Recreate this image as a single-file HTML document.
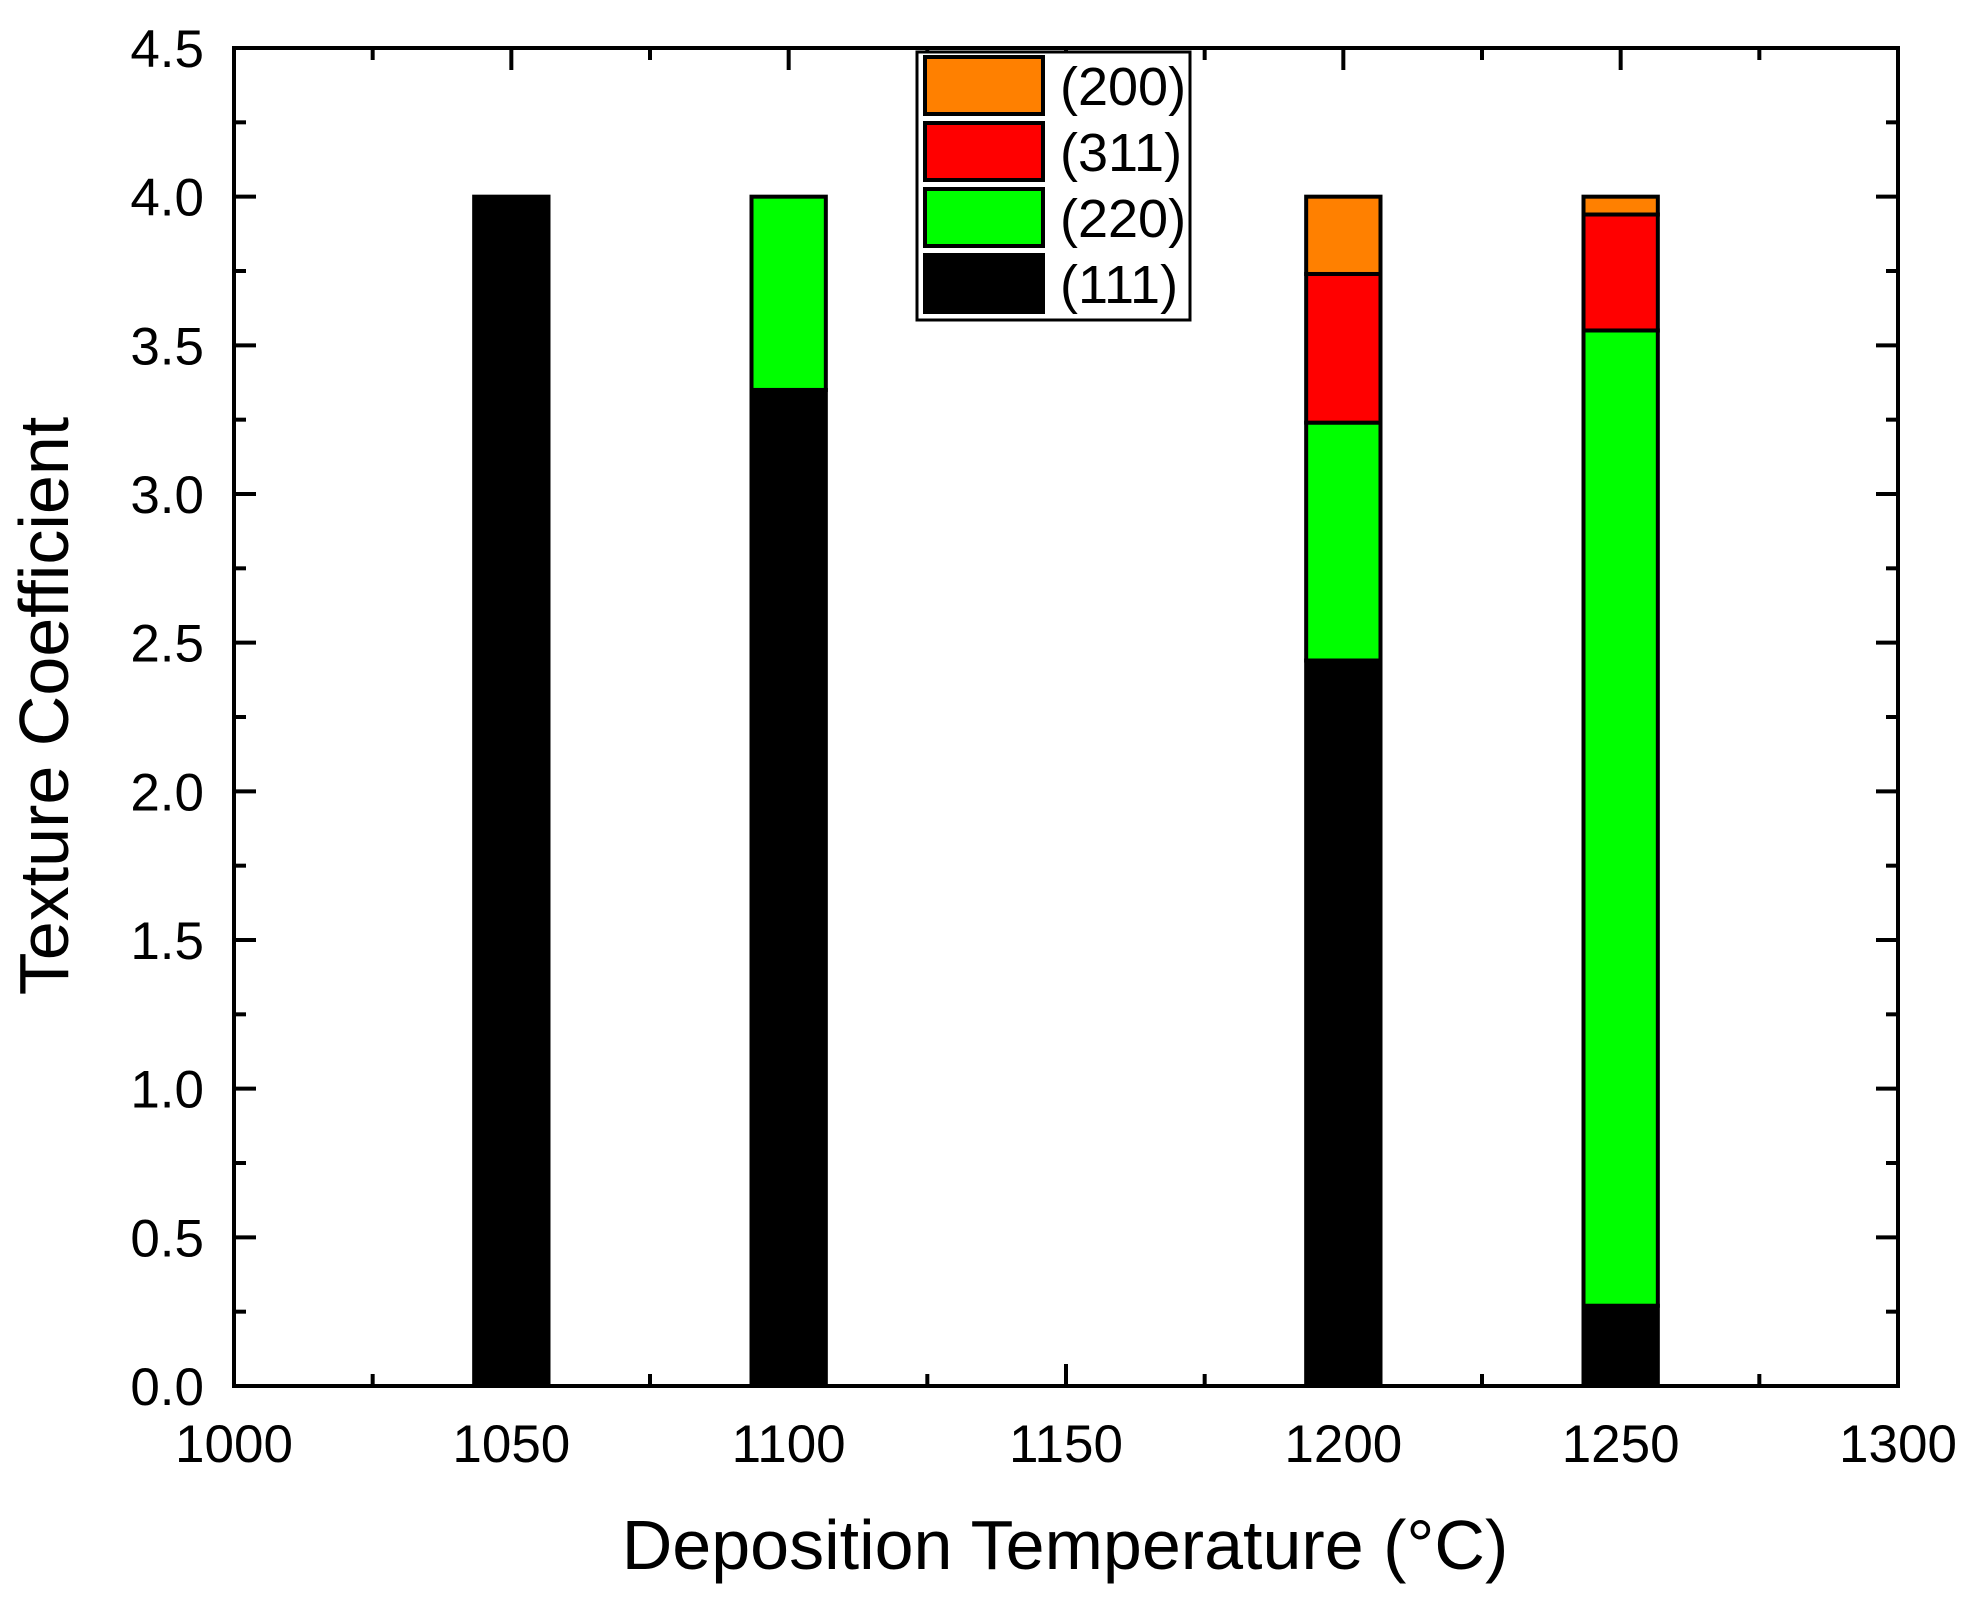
<!DOCTYPE html>
<html><head><meta charset="utf-8"><style>
html,body{margin:0;padding:0;background:#fff;}
svg{display:block;font-family:"Liberation Sans",Arial,sans-serif;}
</style></head><body>
<svg id="chart" width="1976" height="1603" viewBox="0 0 1976 1603">
<g id="bars"></g>
<g id="axes"></g>
<g id="legend"></g>
<text x="1065" y="1569" font-size="70" text-anchor="middle">Deposition Temperature (°C)</text>
<text transform="translate(68,706) rotate(-90)" font-size="70" text-anchor="middle">Texture Coefficient</text>
</svg>
<script>
const categories = [1050, 1100, 1200, 1250];
const series111 = [4.0, 3.35, 2.44, 0.27];
const series220 = [0.0, 0.65, 0.80, 3.28];
const series311 = [0.0, 0.0, 0.50, 0.39];
const series200 = [0.0, 0.0, 0.26, 0.06];
const seriesNames = ["(111)", "(220)", "(311)", "(200)"];
const xTicks = [1000, 1050, 1100, 1150, 1200, 1250, 1300];
const yTicks = [0.0, 0.5, 1.0, 1.5, 2.0, 2.5, 3.0, 3.5, 4.0, 4.5];

const NS = "http://www.w3.org/2000/svg";
const L = 234, R = 1898, T = 48, B = 1386;
const xMin = 1000, xMax = 1300, yMin = 0, yMax = 4.5;
function xs(v){ return L + (v - xMin) / (xMax - xMin) * (R - L); }
function ys(v){ return B - (v - yMin) / (yMax - yMin) * (B - T); }
function mk(tag, attrs, parent){ const e = document.createElementNS(NS, tag); for (const k in attrs) e.setAttribute(k, attrs[k]); parent.appendChild(e); return e; }

const colors = ["#000000", "#00ff00", "#ff0000", "#ff8000"];
const allSeries = [series111, series220, series311, series200];
const barHalf = 6.7;
const gb = document.getElementById("bars");
categories.forEach((c, i) => {
  let base = 0;
  allSeries.forEach((s, k) => {
    const v = s[i];
    if (v <= 0) return;
    const x0 = xs(c - barHalf), x1 = xs(c + barHalf);
    const y0 = ys(base + v), y1 = ys(base);
    const r = mk("rect", {x: x0, y: y0, width: x1 - x0, height: y1 - y0, fill: colors[k], stroke: "#000", "stroke-width": 4}, gb);
    
    
    base += v;
  });
});

const ga = document.getElementById("axes");
const frame = mk("rect", {x: L, y: T, width: R - L, height: B - T, fill: "none", stroke: "#000", "stroke-width": 4}, ga);


for (let v = xMin; v <= xMax; v += 25) {
  const major = (v % 50 === 0);
  const len = major ? 22 : 12;
  const x = xs(v);
  mk("line", {x1: x, y1: B, x2: x, y2: B - len, stroke: "#000", "stroke-width": 4}, ga);
  mk("line", {x1: x, y1: T, x2: x, y2: T + len, stroke: "#000", "stroke-width": 4}, ga);
}
xTicks.forEach(v => {
  const t = mk("text", {x: xs(v), y: 1462, "font-size": 53, "text-anchor": "middle"}, ga);
  t.textContent = String(v);
  
  
});
for (let v = 0; v <= 4.5001; v += 0.25) {
  const major = Math.abs(v * 2 - Math.round(v * 2)) < 1e-6;
  const len = major ? 22 : 12;
  const y = ys(v);
  mk("line", {x1: L, y1: y, x2: L + len, y2: y, stroke: "#000", "stroke-width": 4}, ga);
  mk("line", {x1: R, y1: y, x2: R - len, y2: y, stroke: "#000", "stroke-width": 4}, ga);
}
yTicks.forEach(v => {
  const t = mk("text", {x: 204, y: ys(v) + 19, "font-size": 53, "text-anchor": "end"}, ga);
  t.textContent = v.toFixed(1);
  
  
});

const gl = document.getElementById("legend");
const box = mk("rect", {x: 917, y: 52, width: 273, height: 268, fill: "#fff", stroke: "#000", "stroke-width": 3}, gl);


const order = [3, 2, 1, 0];
order.forEach((k, r) => {
  const y = 57 + r * 66;
  const sw = mk("rect", {x: 925, y: y, width: 118, height: 57, fill: colors[k], stroke: "#000", "stroke-width": 4}, gl);
  
  
  const t = mk("text", {x: 1060, y: y + 48, "font-size": 54}, gl);
  t.textContent = seriesNames[k];
  
  
});
</script>
</body></html>
